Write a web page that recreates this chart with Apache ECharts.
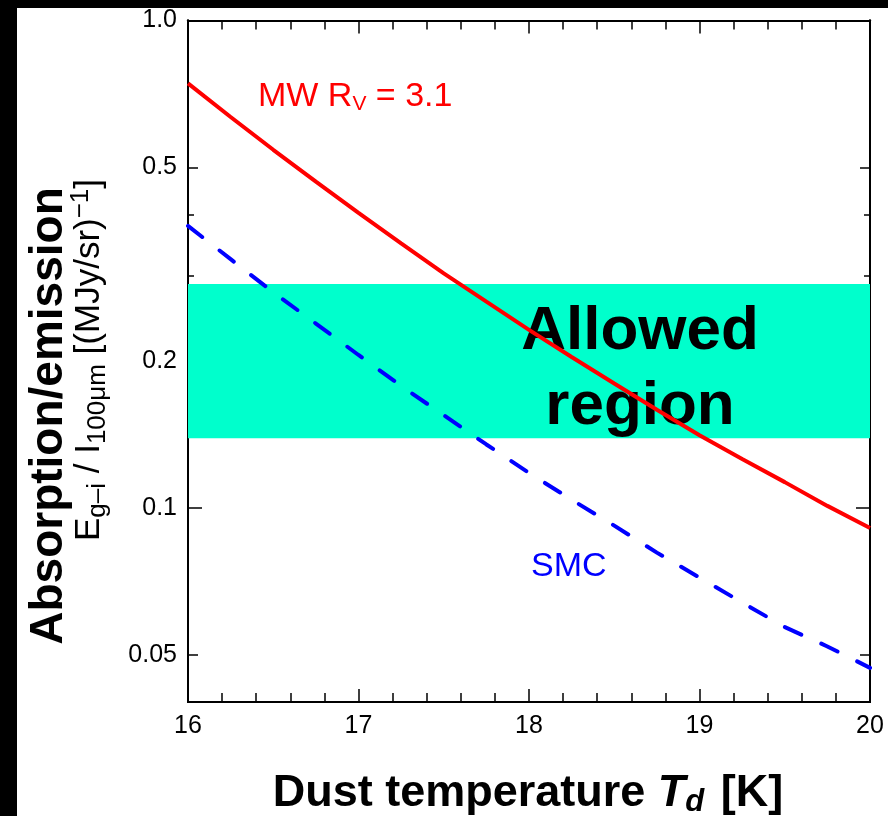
<!DOCTYPE html>
<html lang="en">
<head>
<meta charset="UTF-8">
<title>Absorption/emission vs dust temperature</title>
<script src="https://cdn.jsdelivr.net/npm/echarts@6/dist/echarts.min.js"></script>
<style>
    html, body { margin: 0; padding: 0; background: #000; }
    #main { position: absolute; left: 17px; top: 8px; width: 871px; height: 808px; background: #fff; }
</style>
</head>
<body>
<div id="main"></div>
<script>
    // dust temperature [K]
    const temps = [16, 16.25, 16.5, 16.75, 17, 17.25, 17.5, 17.75, 18, 18.25, 18.5, 18.75, 19, 19.25, 19.5, 19.75, 20];
    // absorption/emission ratio
    const mwRatio = [0.743, 0.634, 0.543, 0.467, 0.403, 0.349, 0.303, 0.265, 0.232, 0.204, 0.180, 0.159, 0.141, 0.126, 0.113, 0.101, 0.091];
    const smcRatio = [0.379, 0.324, 0.277, 0.239, 0.206, 0.178, 0.155, 0.135, 0.118, 0.104, 0.092, 0.081, 0.072, 0.064, 0.057, 0.052, 0.047];
    const allowedBand = [0.139, 0.288];

    const yLabelValues = [0.05, 0.1, 0.2, 0.5, 1.0];
    const yLabelTexts = ['0.05', '0.1', '0.2', '0.5', '1.0'];
    const yMidTicks = [0.05, 0.2, 0.5];
    const yDecadeTicks = [0.1, 1.0];
    const yMinorTicks = [0.3, 0.4];

    const font = '"Liberation Sans", Arial, Helvetica, sans-serif';
    const chart = echarts.init(document.getElementById('main'));

    function xAxisCfg(position, withLabels) {
        return {
            type: 'value', position: position, min: 16, max: 20, interval: 1,
            axisLine: { show: true, onZero: false, lineStyle: { color: '#000', width: 2 } },
            axisTick: { show: true, inside: true, length: 13, lineStyle: { color: '#000', width: 1.5 } },
            minorTick: { show: true, splitNumber: 5, length: 9, lineStyle: { color: '#000', width: 1.5 } },
            axisLabel: withLabels
                ? { show: true, color: '#000', fontSize: 25, fontFamily: font, margin: 12 }
                : { show: false },
            splitLine: { show: false },
            minorSplitLine: { show: false }
        };
    }

    function yAxisCfg(position, tickValues, tickLen, withLabels) {
        return {
            type: 'log', position: position, min: 0.04, max: 1,
            axisLine: { show: true, onZero: false, lineStyle: { color: '#000', width: 2 } },
            axisTick: { show: true, inside: true, length: tickLen, customValues: tickValues,
                lineStyle: { color: '#000', width: 1.5 } },
            axisLabel: withLabels
                ? {
                    show: true, customValues: yLabelValues, color: '#000', fontSize: 25,
                    fontFamily: font, margin: 11,
                    formatter: v => {
                        const i = yLabelValues.findIndex(t => Math.abs(t - v) < 1e-9);
                        return i >= 0 ? yLabelTexts[i] : String(v);
                    }
                }
                : { show: false },
            splitLine: { show: false }
        };
    }

    const option = {
        animation: false,
        backgroundColor: '#fff',
        grid: { left: 171, top: 12, width: 682, height: 682 },
        xAxis: [xAxisCfg('bottom', true), xAxisCfg('top', false)],
        yAxis: [
            yAxisCfg('left', yMidTicks, 10, true),
            yAxisCfg('left', yDecadeTicks, 14, false),
            yAxisCfg('left', yMinorTicks, 6, false),
            yAxisCfg('right', yMidTicks, 10, false),
            yAxisCfg('right', yDecadeTicks, 14, false),
            yAxisCfg('right', yMinorTicks, 6, false)
        ],
        series: [
            {
                name: 'band', type: 'line', data: [], silent: true, z: 1,
                markArea: {
                    silent: true,
                    itemStyle: { color: '#00FFCC', opacity: 1 },
                    data: [[{ yAxis: allowedBand[0] }, { yAxis: allowedBand[1] }]]
                }
            },
            {
                name: 'SMC', type: 'line', showSymbol: false, z: 5,
                data: temps.map((t, i) => [t, smcRatio[i]]),
                lineStyle: { color: '#0000FF', width: 4, type: [18, 22], cap: 'round' }
            },
            {
                name: 'MW', type: 'line', showSymbol: false, z: 5,
                data: temps.map((t, i) => [t, mwRatio[i]]),
                lineStyle: { color: '#FF0000', width: 4 }
            }
        ],
        graphic: [
            {
                type: 'text', x: 241, y: 89, z: 3,
                style: {
                    text: 'MW R{sub|V} = 3.1', fill: '#FF0000', fontSize: 34, fontFamily: font,
                    align: 'left', verticalAlign: 'middle',
                    rich: { sub: { fontSize: 21, fontFamily: font, fill: '#FF0000', padding: [14, 0, 0, 0] } }
                }
            },
            {
                type: 'text', x: 514, y: 559, z: 3,
                style: {
                    text: 'SMC', fill: '#0000FF', fontSize: 34, fontFamily: font,
                    align: 'left', verticalAlign: 'middle'
                }
            },
            {
                type: 'text', x: 623, y: 324, z: 3,
                style: {
                    text: 'Allowed', fill: '#000', fontSize: 62, fontWeight: 'bold',
                    fontFamily: font, align: 'center', verticalAlign: 'middle'
                }
            },
            {
                type: 'text', x: 623, y: 399, z: 3,
                style: {
                    text: 'region', fill: '#000', fontSize: 62, fontWeight: 'bold',
                    fontFamily: font, align: 'center', verticalAlign: 'middle'
                }
            },
            {
                type: 'text', x: 511, y: 786, z: 3,
                style: {
                    text: 'Dust temperature {it|T}{dsub|d} [K]', fill: '#000', fontSize: 45,
                    fontWeight: 'bold', fontFamily: font, align: 'center', verticalAlign: 'middle',
                    rich: {
                        it: { fontSize: 45, fontWeight: 'bold', fontStyle: 'italic', fontFamily: font, fill: '#000' },
                        dsub: { fontSize: 31, fontWeight: 'bold', fontStyle: 'italic', fontFamily: font, fill: '#000',
                            padding: [16, 4, 0, 0] }
                    }
                }
            },
            {
                type: 'text', x: 32, y: 408, rotation: Math.PI / 2, z: 3,
                style: {
                    text: 'Absorption/emission', fill: '#000', fontSize: 46, fontWeight: 'bold',
                    fontFamily: font, align: 'center', verticalAlign: 'middle'
                }
            },
            {
                type: 'text', x: 72, y: 352, rotation: Math.PI / 2, z: 3,
                style: {
                    text: 'E{sub|g\u2013i} / I{sub|100\u03bcm} [(MJy/sr){sup|\u22121}]', fill: '#000',
                    fontSize: 35, fontFamily: font, align: 'center', verticalAlign: 'middle',
                    rich: {
                        sub: { fontSize: 26, fontFamily: font, fill: '#000', padding: [17, 0, 0, 0] },
                        sup: { fontSize: 26, fontFamily: font, fill: '#000', padding: [0, 0, 17, 0] }
                    }
                }
            }
        ]
    };

    chart.setOption(option);
</script>
</body>
</html>
